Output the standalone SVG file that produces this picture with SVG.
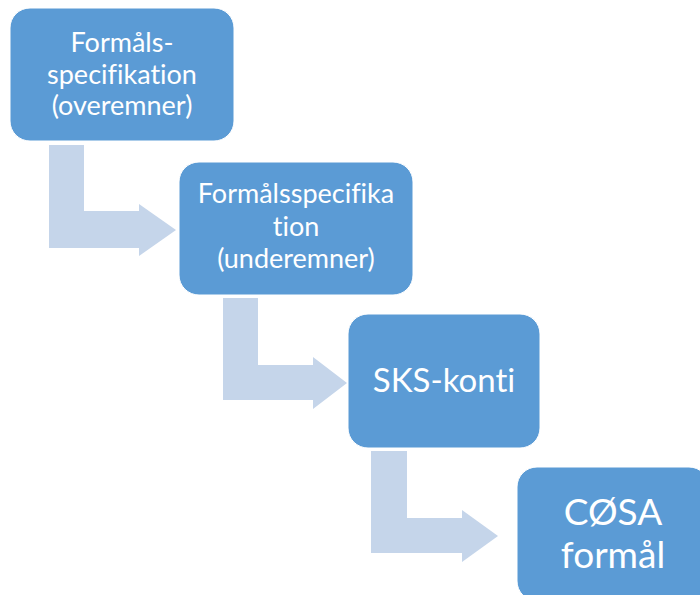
<svg xmlns="http://www.w3.org/2000/svg" width="700" height="595" viewBox="0 0 700 595">
<style>
.box{fill:#5B9BD5;stroke:#FFFFFF;stroke-width:1}
.arr{fill:#C5D5EA}
.t{font-family:Lato,"Open Sans","Liberation Sans",sans-serif;fill:#FFFFFF;text-anchor:middle;font-variant-ligatures:none;font-feature-settings:"liga" 0}
.s{font-size:27px}
.m{font-size:33px}
.l{font-size:37px}
</style>
<rect width="700" height="595" fill="#FFFFFF"/>
<g id="connectors">
<path class="arr" d="M49,145 H84 V211 H139 V204 L176,230 L139,256 V248 H49 Z"/>
<path class="arr" d="M223,298 H258 V365 H313 V357 L347,383 L313,409 V400 H223 Z"/>
<path class="arr" d="M371,451 H407 V518 H462 V510 L498,536 L462,562 V553 H371 Z"/>
</g>
<g id="n1">
<rect class="box" x="10" y="8" width="224" height="133" rx="20"/>
<text class="t s" x="122" y="52">Formåls-</text>
<text class="t s" x="122" y="84">specifikation</text>
<text class="t s" x="122" y="115">(overemner)</text>
</g>
<g id="n2">
<rect class="box" x="179" y="162" width="234" height="133" rx="20"/>
<text class="t s" x="296" y="203">Formålsspecifika</text>
<text class="t s" x="296" y="236">tion</text>
<text class="t s" x="296" y="268">(underemner)</text>
</g>
<g id="n3">
<rect class="box" x="348" y="314" width="192" height="134" rx="20"/>
<text class="t m" x="444" y="392">SKS-konti</text>
</g>
<g id="n4">
<rect class="box" x="517" y="467" width="192" height="134" rx="20"/>
<text class="t l" x="613" y="525">CØSA</text>
<text class="t l" x="613" y="568">formål</text>
</g>
</svg>
